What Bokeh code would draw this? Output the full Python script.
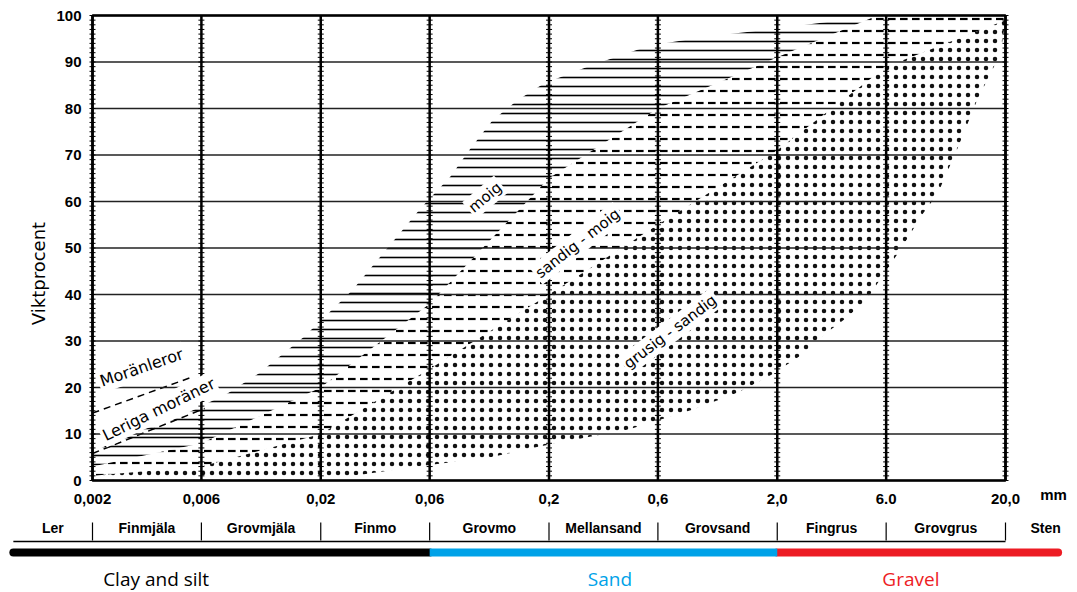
import numpy as np
from bokeh.plotting import figure
from bokeh.models import FixedTicker, Range1d
from bokeh.core.properties import value
from bokeh.embed import file_html
from bokeh.resources import INLINE

# ---------------- data ----------------
sieve_mm = [0.002, 0.006, 0.02, 0.06, 0.2, 0.6, 2.0, 6.0, 20.0]
sieve_labels = ["0,002", "0,006", "0,02", "0,06", "0,2", "0,6", "2,0", "6.0", "20,0"]
percent_ticks = [0, 10, 20, 30, 40, 50, 60, 70, 80, 90, 100]

fractions = ["Ler", "Finmjäla", "Grovmjäla", "Finmo", "Grovmo", "Mellansand",
             "Grovsand", "Fingrus", "Grovgrus", "Sten"]
fraction_edges = [0.0009, 0.002, 0.006, 0.02, 0.06, 0.2, 0.6, 2.0, 6.0, 20.0, 45.0]

groups = ["Clay and silt", "Sand", "Gravel"]
group_edges = [0.0009, 0.06, 2.0, 34.0]
group_label_x = [0.0038, 0.37, 7.7]
group_colors = ["#000000", "#00a2e8", "#ed1c24"]

# upper-left edge of the hatched field (start of "moig")
upper_x = [0.002, 0.0029, 0.0045, 0.0078, 0.0107, 0.0168, 0.0275, 0.0547, 0.074,
           0.0906, 0.113, 0.145, 0.19, 0.303, 0.55, 0.94, 2.0, 4.6, 5.5]
upper_y = [6, 10, 13, 18.7, 23, 30.8, 40.9, 58.5, 65.4, 71.4, 77.4, 81.7, 85.4,
           89.2, 93.5, 95.3, 97.2, 99.5, 100]
# moig / sandig-moig boundary
ms_x = [0.002, 0.006, 0.02, 0.06, 0.2, 0.6, 2.0, 5.5]
ms_y = [3, 8, 20, 38, 65, 80, 91, 100]
# sandig-moig / grusig-sandig boundary
sg_x = [0.002, 0.006, 0.02, 0.06, 0.2, 0.6, 2.0, 6.0, 20.0]
sg_y = [1, 3, 10, 24, 40, 55, 71, 89, 99]
# lower-right edge of the hatched field (end of "grusig-sandig")
lower_x = [0.002, 0.02, 0.053, 0.111, 0.177, 0.294, 0.45, 0.834, 1.09, 1.35, 1.93,
           2.61, 3.17, 4.05, 4.96, 5.67, 6.9, 8.7, 10.1, 12.4, 15.0, 19.0, 20.0]
lower_y = [0, 0, 3, 5, 7.2, 9.3, 11, 15.1, 17.2, 19, 23, 27.3, 31.2, 35.1, 39.1,
           43.4, 49.5, 57.4, 61.7, 71.7, 81.7, 91.8, 99]

# moraine clay boundaries (dashed)
moranlera_x = [0.002, 0.0055]
moranlera_y = [14.5, 22.3]
leriga_x = [0.002, 0.0062]
leriga_y = [5.8, 15.5]

notes = ["Moränleror", "Leriga moräner", "moig", "sandig - moig", "grusig - sandig"]
note_x = [0.00328, 0.0039, 0.105, 0.267, 0.68]
note_y = [24.3, 15.3, 60.9, 51.0, 32.0]
note_angle = [19, 26, 40, 38, 37]
note_size = ["16px", "16px", "15px", "15px", "15px"]

y_title = "Viktprocent"
unit_label = "mm"

# ---------------- layout (pixels) ----------------
W, H = 1077, 592
FL, FR, FT, FB = 92, 72, 15, 112            # chart frame inside the canvas
dpp = np.log10(sieve_mm[-1] / sieve_mm[0]) / (W - FL - FR)   # decades per pixel
ppp = (H - FT - FB) / (percent_ticks[-1] - percent_ticks[0])  # pixels per percent
x_lo = sieve_mm[0] / 10 ** (FL * dpp)
x_hi = sieve_mm[-1] * 10 ** (FR * dpp)
y_lo = percent_ticks[0] - FB / ppp
y_hi = percent_ticks[-1] + FT / ppp


def row(px_from_top):
    """canvas row -> value on the percent scale"""
    return (H - FB - px_from_top) / ppp


def col(px_from_left):
    """canvas column -> value on the mm scale"""
    return sieve_mm[0] * 10 ** ((px_from_left - FL) * dpp)


p = figure(width=W, height=H, x_axis_type="log",
           x_range=Range1d(x_lo, x_hi), y_range=Range1d(y_lo, y_hi),
           output_backend="svg", toolbar_location=None, min_border=0)
p.outline_line_color = None
p.background_fill_color = "white"
p.border_fill_color = "white"
p.grid.visible = False

# hatched zones
moig_px = upper_x + ms_x[::-1]
moig_py = upper_y + ms_y[::-1]
sm_px = ms_x + [sieve_mm[-1]] + sg_x[::-1]
sm_py = ms_y + [percent_ticks[-1]] + sg_y[::-1]
gs_px = sg_x + lower_x[::-1]
gs_py = sg_y + lower_y[::-1]

p.patch(moig_px, moig_py, fill_color=None, line_color=None,
        hatch_pattern="-", hatch_scale=9, hatch_weight=1.6, hatch_color="black")
p.patch(sm_px, sm_py, fill_color=None, line_color=None,
        hatch_pattern='"', hatch_scale=12, hatch_weight=2.2, hatch_color="black")
p.patch(gs_px, gs_py, fill_color=None, line_color=None,
        hatch_pattern=".", hatch_scale=9, hatch_weight=0.4, hatch_color="#111111")

p.line(moranlera_x, moranlera_y, line_color="black", line_width=1.5, line_dash="7 5")
p.line(leriga_x, leriga_y, line_color="black", line_width=1.5, line_dash="7 5")

# grid lines limited to the chart area
n_s, n_p = len(sieve_mm), len(percent_ticks)
p.segment(x0=[sieve_mm[0]] * n_p, x1=[sieve_mm[-1]] * n_p, y0=percent_ticks,
          y1=percent_ticks, line_color="#222222", line_width=1.6)
p.segment(x0=sieve_mm, x1=sieve_mm, y0=[percent_ticks[0]] * n_s,
          y1=[percent_ticks[-1]] * n_s, line_color="black", line_width=2.5)

# ruler ticks along the vertical lines
ry = np.arange(percent_ticks[0], percent_ticks[-1] + 1, 1)
p.scatter(np.repeat(sieve_mm, len(ry)), np.tile(ry, n_s), marker="dash", size=6,
          line_color="black", line_width=1)

# frame of the chart
p.quad(left=[sieve_mm[0]], right=[sieve_mm[-1]], bottom=[percent_ticks[0]],
       top=[percent_ticks[-1]], fill_color=None, line_color="black", line_width=2.5)

p.text(x=note_x, y=note_y, text=notes, angle=note_angle, angle_units="deg",
       text_align="center", text_baseline="middle",
       text_font=value("DejaVu Sans"), text_font_size=note_size, text_color="black",
       background_fill_color="white", background_fill_alpha=1.0, padding=2)

# axes pinned to the chart corner
p.xaxis.fixed_location = percent_ticks[0]
p.yaxis.fixed_location = sieve_mm[0]
p.xaxis.ticker = FixedTicker(ticks=sieve_mm, minor_ticks=[])
p.xaxis.major_label_overrides = {v: l for v, l in zip(sieve_mm, sieve_labels)}
p.yaxis.ticker = FixedTicker(ticks=percent_ticks, minor_ticks=[])
for ax in (p.xaxis[0], p.yaxis[0]):
    ax.axis_line_color = None
    ax.major_tick_line_color = None
    ax.minor_tick_line_color = None
    ax.major_label_text_font = "Liberation Sans"
    ax.major_label_text_font_style = "bold"
    ax.major_label_text_color = "black"
p.xaxis.major_label_text_font_size = "15px"
p.yaxis.major_label_text_font_size = "15px"
p.xaxis.major_label_standoff = 7
p.yaxis.major_label_standoff = 5

p.text(x=[col(38)], y=[row(273)], text=[y_title], angle=[90], angle_units="deg",
       text_align="center", text_baseline="middle",
       text_font=value("DejaVu Sans"), text_font_size="18px", text_color="black")
p.text(x=[col(1053)], y=[row(494)], text=[unit_label],
       text_align="center", text_baseline="middle",
       text_font=value("Liberation Sans"), text_font_style="bold",
       text_font_size="15px", text_color="black")

# ---------------- fraction scale below the chart ----------------
centers = [np.sqrt(a * b) for a, b in zip(fraction_edges[:-1], fraction_edges[1:])]
p.text(x=centers, y=[row(527)] * len(centers), text=fractions,
       text_align="center", text_baseline="middle",
       text_font=value("Liberation Sans"), text_font_style="bold",
       text_font_size="14px", text_color="black")
p.segment(x0=sieve_mm, y0=[row(540)] * n_s, x1=sieve_mm, y1=[row(522)] * n_s,
          line_color="black", line_width=1.2)
p.segment(x0=[fraction_edges[0]], y0=[row(541)], x1=[sieve_mm[-1]], y1=[row(541)],
          line_color="black", line_width=1.5)

for i in [0, 2, 1]:
    p.segment(x0=[group_edges[i]], y0=[row(552)], x1=[group_edges[i + 1]], y1=[row(552)],
              line_color=group_colors[i], line_width=8,
              line_cap="butt" if i == 1 else "round")
p.text(x=group_label_x, y=[row(578)] * 3, text=groups, text_color=group_colors,
       text_align="center", text_baseline="middle",
       text_font=value("Open Sans"), text_font_size="19px")

open("out.html", "w").write(file_html(p, INLINE))
